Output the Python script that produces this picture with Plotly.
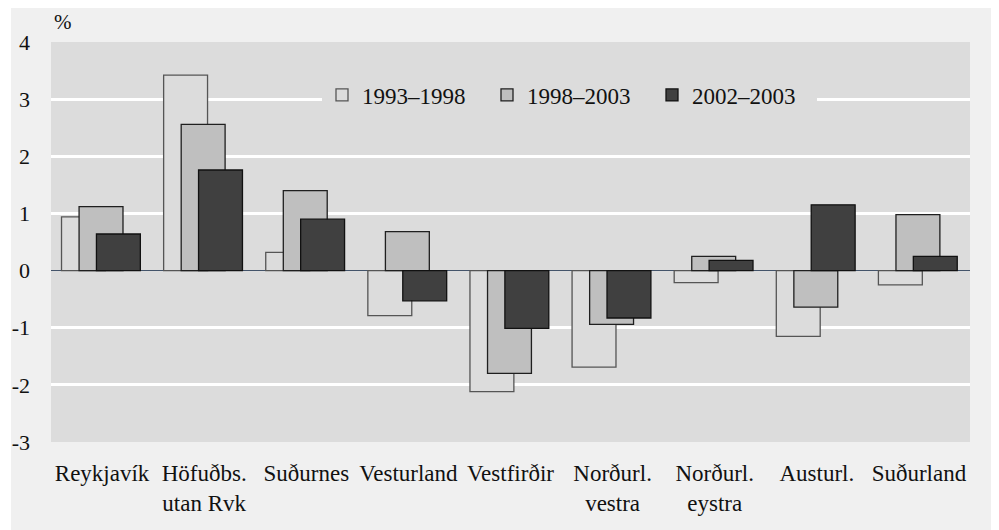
import plotly.graph_objects as go

categories = ["Reykjavík", "Höfuðbs.<br>utan Rvk", "Suðurnes", "Vesturland", "Vestfirðir",
              "Norðurl.<br>vestra", "Norðurl.<br>eystra", "Austurl.", "Suðurland"]
series_names = ["1993–1998", "1998–2003", "2002–2003"]
s1993_1998 = [0.94, 3.42, 0.32, -0.79, -2.12, -1.69, -0.21, -1.15, -0.25]
s1998_2003 = [1.12, 2.56, 1.40, 0.68, -1.80, -0.94, 0.25, -0.64, 0.98]
s2002_2003 = [0.64, 1.76, 0.90, -0.53, -1.01, -0.83, 0.18, 1.15, 0.25]
y_tick_vals = [-3, -2, -1, 0, 1, 2, 3, 4]
y_tick_text = ["-3", "-2", "-1", "0", "1", "2", "3", "4"]

FONT = "Times New Roman, Liberation Serif, DejaVu Serif, serif"
PLOT_BG = "#dcdcdc"
OUTER_BG = "#f0f0f0"

# page is offset by the 8px default body margin
W, H = 991, 522
L, R, T, B = 43, 29, 34, 88
PW, PH = W - L - R, H - T - B

styles = [
    dict(fill=PLOT_BG, line="#555555", offset=-0.397),
    dict(fill="#bfbfbf", line="#1f1f1f", offset=-0.225),
    dict(fill="#404040", line="#111111", offset=-0.055),
]

fig = go.Figure()
for name, vals, st in zip(series_names, [s1993_1998, s1998_2003, s2002_2003], styles):
    fig.add_trace(go.Bar(
        x=categories, y=vals, name=name,
        width=0.43, offset=st["offset"],
        marker=dict(color=st["fill"], line=dict(color=st["line"], width=1.3)),
    ))

def px_x(px):
    return (px - L) / PW

def px_y(py):
    return (T + PH - py) / PH

fig.update_layout(
    width=W, height=H,
    margin=dict(l=L, r=R, t=T, b=B, autoexpand=False),
    barmode="overlay",
    paper_bgcolor="white",
    plot_bgcolor=PLOT_BG,
    font=dict(family=FONT, size=23, color="#111111"),
    showlegend=True,
    legend=dict(
        orientation="h",
        x=px_x(314), xanchor="left",
        y=px_y(87), yanchor="middle",
        bgcolor=PLOT_BG,
        font=dict(family=FONT, size=23, color="#111111"),
        entrywidth=120, entrywidthmode="pixels",
        traceorder="normal",
    ),
    shapes=[
        dict(type="rect", xref="paper", yref="paper",
             x0=px_x(3), x1=px_x(987),
             y0=px_y(H + 10), y1=px_y(0),
             fillcolor=OUTER_BG, line=dict(width=0), layer="below"),
        dict(type="rect", xref="paper", yref="paper",
             x0=0, x1=1, y0=0, y1=1,
             fillcolor=PLOT_BG, line=dict(width=0), layer="below"),
    ],
    annotations=[
        dict(text="%", xref="paper", yref="paper", x=px_x(44), y=px_y(14),
             xanchor="left", yanchor="middle", showarrow=False,
             font=dict(family=FONT, size=21, color="#111111")),
    ],
)

fig.update_xaxes(
    automargin=False,
    showgrid=False, showline=False, ticks="",
    tickfont=dict(family=FONT, size=23, color="#111111"),
    ticklabelstandoff=15,
)
fig.update_yaxes(
    automargin=False,
    range=[-3, 4], tickvals=y_tick_vals, ticktext=y_tick_text,
    showgrid=True, gridcolor="white", gridwidth=2.5,
    zeroline=True, zerolinecolor="#44546a", zerolinewidth=1.2,
    showline=False, ticks="",
    tickfont=dict(family=FONT, size=22, color="#111111"),
    ticklabelstandoff=20,
)

fig.write_html("out.html")
